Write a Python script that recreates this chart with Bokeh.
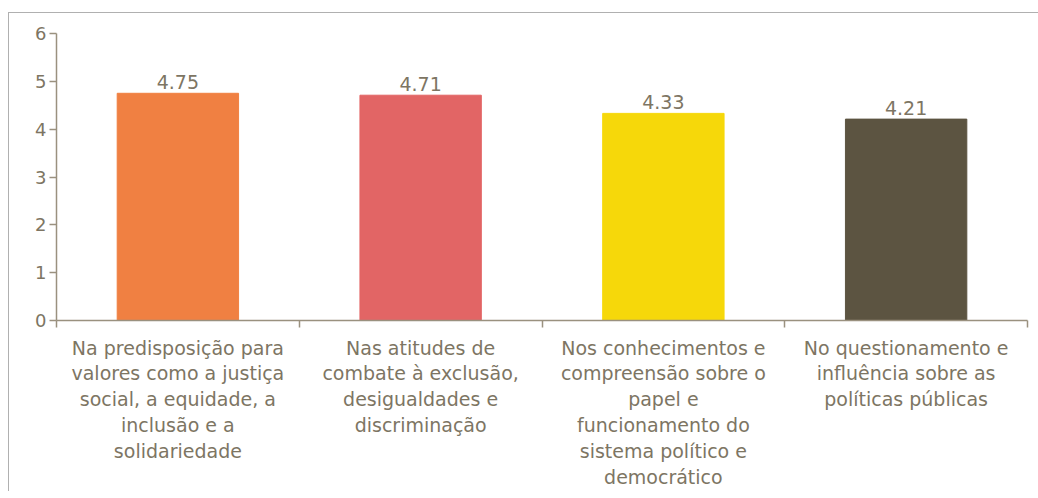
from bokeh.plotting import figure
from bokeh.models import ColumnDataSource, Range1d, FixedTicker
from bokeh.embed import file_html
from bokeh.resources import INLINE
from bokeh.core.properties import value

categories = [
    "Na predisposição para\nvalores como a justiça\nsocial, a equidade, a\ninclusão e a\nsolidariedade",
    "Nas atitudes de\ncombate à exclusão,\ndesigualdades e\ndiscriminação",
    "Nos conhecimentos e\ncompreensão sobre o\npapel e\nfuncionamento do\nsistema político e\ndemocrático",
    "No questionamento e\ninfluência sobre as\npolíticas públicas",
]
values = [4.75, 4.71, 4.33, 4.21]
colors = ["#F08042", "#E26565", "#F6D80A", "#5C5441"]
y_ticks = [0, 1, 2, 3, 4, 5, 6]

FONT = "DejaVu Sans"
TXT = "#7d7563"
AX = "#9a917f"

n = len(categories)
xs = [i + 0.5 for i in range(n)]
src = ColumnDataSource(dict(x=xs, top=values, color=colors,
                            label=["%.2f" % v for v in values]))

p = figure(frame_width=971, frame_height=287,
           x_range=Range1d(0, n), y_range=Range1d(0, 6),
           output_backend="svg", toolbar_location=None,
           min_border_left=47, min_border_top=20, min_border_right=11,
           min_border_bottom=170)
p.styles = {"border-left": "1px solid #b0b0b0", "border-top": "1px solid #b0b0b0"}
p.margin = (12, 0, 0, 8)
p.outline_line_color = None
p.xgrid.grid_line_color = None
p.ygrid.grid_line_color = None

p.vbar(x="x", top="top", width=0.5, bottom=0, color="color", source=src)
p.text(x="x", y="top", text="label", source=src, y_offset=-4,
       text_align="center", text_baseline="bottom",
       text_font=value(FONT), text_font_size="19px", text_color=TXT)

xa = p.xaxis[0]
xa.ticker = FixedTicker(ticks=xs, minor_ticks=list(range(n + 1)))
xa.major_label_overrides = {x: c for x, c in zip(xs, categories)}
xa.major_tick_line_color = None
xa.major_tick_out = 7
xa.major_tick_in = 0
xa.minor_tick_out = 7
xa.minor_tick_in = 0
xa.minor_tick_line_color = AX
xa.minor_tick_line_width = 1.5
xa.axis_line_color = AX
xa.axis_line_width = 1.5
xa.major_label_standoff = 9
xa.major_label_text_font = FONT
xa.major_label_text_font_size = "19px"
xa.major_label_text_color = TXT
xa.major_label_text_line_height = 1.18

ya = p.yaxis[0]
ya.ticker = FixedTicker(ticks=y_ticks)
ya.major_tick_out = 7
ya.major_tick_in = 0
ya.minor_tick_line_color = None
ya.major_tick_line_color = AX
ya.major_tick_line_width = 1.5
ya.axis_line_color = AX
ya.axis_line_width = 1.5
ya.major_label_standoff = 3
ya.major_label_text_font = FONT
ya.major_label_text_font_size = "18px"
ya.major_label_text_color = TXT

open("out.html", "w").write(file_html(p, INLINE))
